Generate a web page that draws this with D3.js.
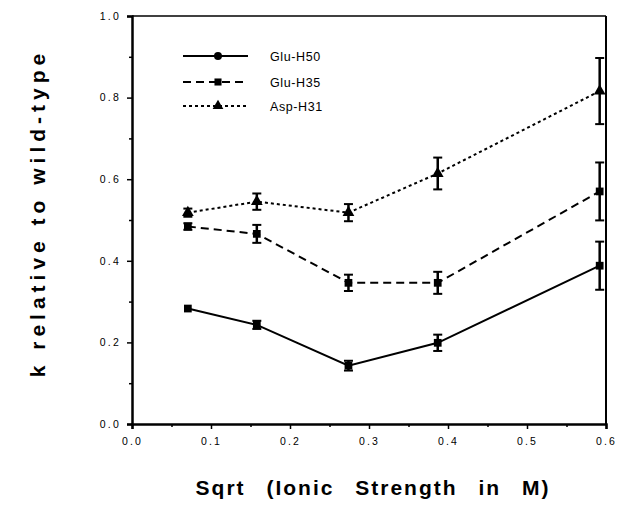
<!DOCTYPE html>
<html><head><meta charset="utf-8">
<script src="https://cdn.jsdelivr.net/npm/d3@7"></script>
<style>body{margin:0;background:#fff}svg{display:block}</style>
</head><body>
<script>
const xValues = [0.0707, 0.158, 0.274, 0.387, 0.592];
const seriesNames = ["Glu-H50", "Glu-H35", "Asp-H31"];
const gluH50 = [0.283, 0.243, 0.143, 0.199, 0.388];
const gluH50Err = [0.006, 0.01, 0.012, 0.02, 0.059];
const gluH35 = [0.484, 0.466, 0.346, 0.346, 0.57];
const gluH35Err = [0.008, 0.022, 0.02, 0.027, 0.071];
const aspH31 = [0.518, 0.545, 0.518, 0.614, 0.816];
const aspH31Err = [0.01, 0.02, 0.021, 0.039, 0.081];
const xTicks = [0, 0.1, 0.2, 0.3, 0.4, 0.5, 0.6];
const yTicks = [0, 0.2, 0.4, 0.6, 0.8, 1.0];

const W = 620, H = 510;
const svg = d3.select("body").append("svg").attr("width", W).attr("height", H);
const x = d3.scaleLinear().domain([0, 0.6]).range([132, 606]);
const y = d3.scaleLinear().domain([0, 1]).range([424, 16]);

const series = [
  {name: seriesNames[0], vals: gluH50, err: gluH50Err, dash: null, sym: d3.symbolSquare, legSym: d3.symbolCircle},
  {name: seriesNames[1], vals: gluH35, err: gluH35Err, dash: "8,5", sym: d3.symbolSquare, legSym: d3.symbolSquare},
  {name: seriesNames[2], vals: aspH31, err: aspH31Err, dash: "3,3", sym: d3.symbolTriangle, legSym: d3.symbolTriangle}
];

// frame top and right
svg.append("line").attr("x1", x(0)).attr("x2", x(0.6)).attr("y1", y(1)).attr("y2", y(1)).attr("stroke", "#000").attr("stroke-width", 1.5);
svg.append("line").attr("x1", x(0.6)).attr("x2", x(0.6)).attr("y1", y(1)).attr("y2", y(0)).attr("stroke", "#000").attr("stroke-width", 2);

const fontT = "Arial, 'Liberation Sans', Helvetica, sans-serif";
// axes
svg.append("g").attr("transform", `translate(0,${y(0)})`)
  .call(d3.axisBottom(x).tickValues(xTicks).tickFormat(d3.format(".1f")).tickSize(5).tickPadding(9));
svg.append("g").attr("transform", `translate(0,${y(0)})`)
  .call(d3.axisBottom(x).tickValues(d3.range(0.05, 0.6, 0.1)).tickFormat("").tickSize(3))
  .call(g => g.select(".domain").remove());
svg.append("g").attr("transform", `translate(${x(0)},0)`)
  .call(d3.axisLeft(y).tickValues(yTicks).tickFormat(d3.format(".1f")).tickSize(5).tickPadding(6));
svg.append("g").attr("transform", `translate(${x(0)},0)`)
  .call(d3.axisLeft(y).tickValues(d3.range(0.1, 1.0, 0.2)).tickFormat("").tickSize(3))
  .call(g => g.select(".domain").remove());
svg.selectAll(".domain").attr("stroke", "#000").attr("stroke-width", 2.5);
svg.selectAll(".tick line").attr("stroke", "#000").attr("stroke-width", 1.5);
svg.selectAll(".tick text").attr("font-family", fontT).attr("font-size", 10.5).attr("fill", "#000").attr("letter-spacing", "2.2px");

// series
const line = d3.line().x((d, i) => x(xValues[i])).y(d => y(d));
series.forEach(s => {
  svg.append("path").datum(s.vals).attr("d", line).attr("fill", "none").attr("stroke", "#000")
    .attr("stroke-width", 2).attr("stroke-dasharray", s.dash);
  const g = svg.append("g");
  s.vals.forEach((v, i) => {
    const cx = x(xValues[i]);
    const e = s.err[i];
    if (e > 0.007) {
      g.append("line").attr("x1", cx).attr("x2", cx).attr("y1", y(v + e)).attr("y2", y(v - e)).attr("stroke", "#000").attr("stroke-width", 2.5);
      [v + e, v - e].forEach(c => g.append("line").attr("x1", cx - 4.5).attr("x2", cx + 4.5).attr("y1", y(c)).attr("y2", y(c)).attr("stroke", "#000").attr("stroke-width", 2));
    }
    g.append("path").attr("d", d3.symbol().type(s.sym).size(60)()).attr("transform", `translate(${cx},${y(v)})`).attr("fill", "#000");
  });
});

// legend
const legY = [56, 82, 106];
series.forEach((s, i) => {
  svg.append("line").attr("x1", 183).attr("x2", 248).attr("y1", legY[i]).attr("y2", legY[i])
    .attr("stroke", "#000").attr("stroke-width", 2).attr("stroke-dasharray", s.dash);
  svg.append("path").attr("d", d3.symbol().type(s.legSym).size(50)()).attr("transform", `translate(218,${legY[i]})`).attr("fill", "#000");
  svg.append("text").attr("x", 270).attr("y", legY[i] + 5).attr("font-family", fontT).attr("font-size", 12.5).attr("letter-spacing", "0.6px").text(s.name);
});

// titles
svg.append("text").attr("x", 373).attr("y", 495).attr("text-anchor", "middle").attr("font-family", fontT)
  .attr("font-weight", "bold").attr("font-size", 21).attr("word-spacing", "13px").attr("letter-spacing", "2px").text("Sqrt (Ionic Strength in M)");
svg.append("text").attr("transform", "translate(45,213) rotate(-90)").attr("text-anchor", "middle").attr("font-family", fontT)
  .attr("font-weight", "bold").attr("font-size", 21).attr("word-spacing", "0px").attr("letter-spacing", "5px").text("k relative to wild-type");
</script>
</body></html>
